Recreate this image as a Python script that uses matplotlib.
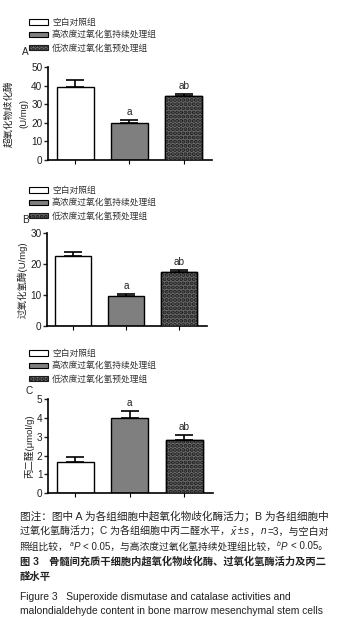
import matplotlib
matplotlib.use("Agg")
import matplotlib.pyplot as plt
from matplotlib.patches import Patch

FAM = ['Liberation Sans', 'Noto Sans CJK SC', 'DejaVu Sans']
plt.rcParams['font.family'] = FAM
plt.rcParams['mathtext.fontset'] = 'custom'
plt.rcParams['mathtext.it'] = 'Liberation Sans:italic'
plt.rcParams['mathtext.rm'] = 'Liberation Sans'
plt.rcParams['hatch.linewidth'] = 2.0

groups = ["空白对照组", "高浓度过氧化氢持续处理组", "低浓度过氧化氢预处理组"]
sod = [39.5, 20.0, 34.2]
sod_err = [3.3, 1.5, 1.2]
sod_sig = ["", "a", "ab"]
cat = [22.6, 9.7, 17.6]
cat_err = [1.4, 0.6, 0.6]
cat_sig = ["", "a", "ab"]
mda = [1.67, 4.02, 2.82]
mda_err = [0.25, 0.37, 0.28]
mda_sig = ["", "a", "ab"]

W, H = 343, 641
panels = [
    dict(letter="A", vals=sod, errs=sod_err, sig=sod_sig, ylim=50, yticks=[0, 10, 20, 30, 40, 50],
         ylabel="超氧化物歧化酶\n(U/mg)", rect=[0.140, 0.7504, 0.478, 0.1451],
         leg_top=18, letter_pos=(22, 52), lsp=1.9),
    dict(letter="B", vals=cat, errs=cat_err, sig=cat_sig, ylim=30, yticks=[0, 10, 20, 30],
         ylabel="过氧化氢酶(U/mg)", rect=[0.137, 0.4919, 0.466, 0.1441],
         leg_top=186, letter_pos=(22, 220), lsp=1.2),
    dict(letter="C", vals=mda, errs=mda_err, sig=mda_sig, ylim=5, yticks=[0, 1, 2, 3, 4, 5],
         ylabel="丙二醛(μmol/g)", rect=[0.140, 0.2304, 0.480, 0.1471],
         leg_top=349, letter_pos=(25, 391), lsp=1.2),
]

fig = plt.figure(figsize=(W / 100, H / 100), dpi=100)

FC3 = "#6c6c6c"
HC3 = "#1c1c1c"
x = list(range(len(groups)))
for p in panels:
    ax = fig.add_axes(p["rect"])
    vals, errs = p["vals"], p["errs"]
    fcs = ["white", "#7f7f7f", FC3]
    ax.bar(x, vals, width=0.68, color=fcs, edgecolor="black", linewidth=1.0, zorder=2)
    ax.bar([x[2]], [vals[2]], width=0.68, color=FC3, edgecolor=HC3,
           hatch="....", linewidth=0, zorder=3)
    ax.bar([x[2]], [vals[2]], width=0.68, fill=False, edgecolor="black", linewidth=1.0, zorder=4)
    ax.errorbar(x, vals, yerr=[[0] * 3, errs], fmt="none", ecolor="black",
                elinewidth=1.2, capsize=6.5, capthick=1.2, zorder=5)
    span = p["ylim"]
    for xi, v, e, s in zip(x, vals, errs, p["sig"]):
        if s:
            ax.text(xi, v + e + span * 0.03, s, ha="center", va="bottom", fontsize=7.2, color="#222")
    ax.set_xlim(-0.5, 2.52)
    ax.set_ylim(0, p["ylim"])
    ax.set_yticks(p["yticks"])
    ax.set_xticks(x)
    ax.set_xticklabels([])
    ax.tick_params(axis="y", labelsize=7.2, length=3, width=1, pad=1, colors="#222")
    ax.tick_params(axis="x", length=3, width=0.8)
    for side in ("top", "right"):
        ax.spines[side].set_visible(False)
    for side in ("left", "bottom"):
        ax.spines[side].set_linewidth(1.2)
    ax.set_ylabel(p["ylabel"], fontsize=6.8, labelpad=2, color="#222", linespacing=p["lsp"])
    handles = [Patch(facecolor="white", edgecolor="black", linewidth=0.8),
               Patch(facecolor="#7f7f7f", edgecolor="black", linewidth=0.8),
               Patch(facecolor=FC3, edgecolor=HC3, hatch="....", linewidth=0.8)]
    fig.legend(handles, groups, loc="upper left", bbox_to_anchor=(0.085, 1 - p["leg_top"] / H),
               frameon=False, fontsize=6.3, handlelength=2.2, handleheight=0.55,
               handletextpad=0.4, labelspacing=0.42, borderaxespad=0, borderpad=0,
               labelcolor="#333")
    lx, ly = p["letter_pos"]
    fig.text(lx / W, 1 - ly / H, p["letter"], fontsize=7.2, ha="left", va="center", color="#222")

renderer = fig.canvas.get_renderer()


def _place(x0, yy, runs, size, weight):
    xx = x0
    texts = []
    gaps = 0.0
    for item in runs:
        if isinstance(item, (int, float)):
            xx += item
            gaps += item
            continue
        t = fig.text(xx / W, 1 - yy / H, item, fontsize=size, fontweight=weight,
                     ha="left", va="center", color="#222", family=FAM)
        bb = t.get_window_extent(renderer)
        xx += bb.width
        texts.append(t)
    return texts, xx, gaps


def draw_runs(x0, yy, runs, size, weight="normal", right=None):
    texts, xx, gaps = _place(x0, yy, runs, size, weight)
    if right is not None and xx > right:
        scale = (right - x0 - gaps) / (xx - x0 - gaps)
        for t in texts:
            t.remove()
        _place(x0, yy, runs, size * scale, weight)


CS = 7.7
R = 327
draw_runs(20, 516.5, ["图注：图中 A 为各组细胞中超氧化物歧化酶活力；B 为各组细胞中"], CS, right=R)
draw_runs(20, 531.5, ["过氧化氢酶活力；C 为各组细胞中丙二醛水平，", r"$\bar{x}$", "±", r"$s$",
                      "，", r"$n$", "=3，与空白对"], CS, right=R)
draw_runs(20, 546.5, ["照组比较，", r"$^{a}P$", 2, "< 0.05，与高浓度过氧化氢持续处理组比较，",
                      r"$^{b}P$", 2, "< 0.05。"], CS, right=R)
draw_runs(20, 562, ["图 3　骨髓间充质干细胞内超氧化物歧化酶、过氧化氢酶活力及丙二"], 7.45, "bold", right=R)
draw_runs(20, 577, ["醛水平"], 7.45, "bold")

en_lines = ["Figure 3   Superoxide dismutase and catalase activities and",
            "malondialdehyde content in bone marrow mesenchymal stem cells"]
for t, yy in zip(en_lines, [596.5, 611.5]):
    fig.text(20 / W, 1 - yy / H, t, fontsize=7.35, ha="left", va="center", color="#222")

fig.savefig("out.png", dpi=100, facecolor="white")
